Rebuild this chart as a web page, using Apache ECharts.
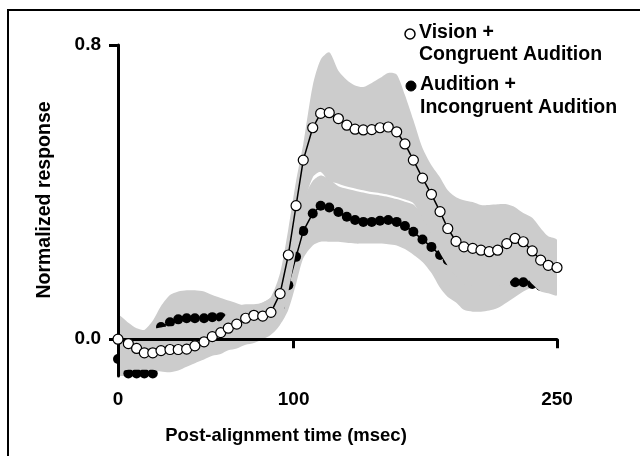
<!DOCTYPE html>
<html><head><meta charset="utf-8">
<script src="https://cdn.jsdelivr.net/npm/echarts@6/dist/echarts.min.js"></script>
<style>html,body{margin:0;padding:0;background:#fff}#c{width:640px;height:456px}</style>
</head><body><div id="c"></div>
<script>
// Post-alignment time (msec) of each sample
const times = [0, 5.9, 10.6, 15.0, 19.8, 24.5, 29.6, 34.3, 39.1, 43.8,
  49.0, 53.7, 58.5, 62.8, 67.6, 72.7, 77.4, 82.4, 87.1, 92.3,
  97.0, 101.4, 105.5, 110.9, 115.4, 120.3, 125.5, 130.3, 135.0, 139.7,
  144.5, 149.2, 153.9, 158.7, 163.4, 168.2, 173.4, 178.5, 183.4, 187.8,
  192.5, 197.0, 202.0, 206.7, 211.4, 216.2, 221.4, 226.1, 230.8, 235.9,
  240.7, 245.0, 250];
// Vision + Congruent Audition (open circles)
const visionCongruent = [0.0, -0.012, -0.025, -0.037, -0.037, -0.031, -0.028, -0.028, -0.027, -0.018,
  -0.007, 0.007, 0.018, 0.03, 0.041, 0.057, 0.065, 0.063, 0.073, 0.124,
  0.229, 0.363, 0.487, 0.575, 0.614, 0.616, 0.6, 0.582, 0.571, 0.569,
  0.57, 0.575, 0.577, 0.564, 0.531, 0.487, 0.438, 0.394, 0.347, 0.301,
  0.266, 0.251, 0.247, 0.242, 0.238, 0.242, 0.26, 0.274, 0.265, 0.24,
  0.215, 0.201, 0.195];
// Audition + Incongruent Audition (filled circles; null = not drawn in the figure)
const auditionIncongruent = [-0.054, -0.093, -0.093, -0.093, -0.093, 0.033, 0.046, 0.054, 0.057, 0.057,
  0.057, 0.06, 0.06, 0.055, 0.05, 0.045, 0.045, 0.05, 0.06, 0.09,
  0.147, 0.224, 0.294, 0.342, 0.363, 0.358, 0.346, 0.333, 0.324, 0.319,
  0.319, 0.322, 0.324, 0.319, 0.308, 0.292, 0.271, 0.251, 0.229, 0.215,
  0.2, 0.19, 0.18, 0.175, 0.17, 0.165, 0.17, 0.155, 0.155, 0.15,
  0.145, 0.14, null];
// Shaded error bands
const visionUpper = [0.065, 0.045, 0.03, 0.025, 0.028, 0.032, 0.035, 0.035, 0.036, 0.038,
  0.04, 0.045, 0.05, 0.075, 0.09, 0.095, 0.095, 0.1, 0.115, 0.18,
  0.3, 0.43, 0.53, 0.69, 0.76, 0.78, 0.73, 0.705, 0.69, 0.686,
  0.697, 0.71, 0.724, 0.72, 0.664, 0.596, 0.52, 0.473, 0.44, 0.405,
  0.386, 0.378, 0.373, 0.365, 0.365, 0.367, 0.367, 0.359, 0.343, 0.33,
  0.302, 0.28, 0.27];
const visionLower = [-0.083, -0.083, -0.083, -0.083, -0.083, -0.088, -0.09, -0.085, -0.075, -0.065,
  -0.055, -0.045, -0.04, -0.03, -0.025, -0.015, -0.01, 0.0, 0.012, 0.04,
  0.13, 0.24, 0.36, 0.44, 0.455, 0.43, 0.423, 0.415, 0.41, 0.405,
  0.4, 0.397, 0.393, 0.387, 0.38, 0.37, 0.33, 0.285, 0.235, 0.2,
  0.17, 0.15, 0.145, 0.145, 0.145, 0.145, 0.15, 0.17, 0.175, 0.15,
  0.13, 0.125, 0.12];
const auditionUpper = [0.03, 0.02, 0.02, 0.025, 0.05, 0.09, 0.12, 0.13, 0.133, 0.133,
  0.13, 0.12, 0.112, 0.105, 0.098, 0.09, 0.087, 0.1, 0.113, 0.13,
  0.2, 0.3, 0.38, 0.43, 0.445, 0.435, 0.416, 0.409, 0.404, 0.399,
  0.394, 0.391, 0.387, 0.381, 0.374, 0.366, 0.34, 0.31, 0.29, 0.27,
  0.26, 0.25, 0.245, 0.24, 0.235, 0.235, 0.235, 0.23, 0.23, 0.225,
  0.22, 0.215, 0.21];
const auditionLower = [-0.12, -0.12, -0.12, -0.12, -0.12, -0.05, -0.01, -0.005, 0.0, 0.0,
  0.0, 0.0, 0.0, 0.0, 0.005, 0.01, 0.015, 0.02, 0.025, 0.04,
  0.08, 0.15, 0.22, 0.255, 0.265, 0.265, 0.265, 0.262, 0.26, 0.26,
  0.26, 0.26, 0.258, 0.255, 0.245, 0.23, 0.21, 0.18, 0.14, 0.115,
  0.1, 0.08, 0.075, 0.075, 0.078, 0.085, 0.1, 0.115, 0.13, 0.14,
  0.135, 0.13, 0.125];
const xTicks = [0, 100, 250];
const yTicks = [0, 0.8];
const legendLines = [['Vision +', 'Congruent Audition'], ['Audition +', 'Incongruent Audition']];

const pair = (arr) => times.map((t, i) => [t, arr[i] === null ? '-' : arr[i]]);
const GRAY = '#cccccc';
const FONT = 'Liberation Sans';
const LEGEND_FONT = 'bold 19.5px "Liberation Sans"';

function bandSeries(name, lo, hi, z) {
  return {
    name: name, type: 'custom', coordinateSystem: 'cartesian2d', silent: true, z: z, clip: true,
    data: [[times[0], lo[0]]],
    renderItem: function (params, api) {
      const up = times.map((t, i) => api.coord([t, hi[i]]));
      const dn = times.map((t, i) => api.coord([t, lo[i]])).reverse();
      return {
        type: 'group',
        children: [
          { type: 'polygon', shape: { points: up.concat(dn), smooth: 0.25 },
            style: { fill: GRAY, stroke: null } }
        ]
      };
    }
  };
}

const chart = echarts.init(document.getElementById('c'), null, { renderer: 'canvas' });
chart.setOption({
  animation: false,
  backgroundColor: '#fff',
  textStyle: { fontFamily: FONT, fontWeight: 'bold', color: '#000' },
  grid: { left: 118, right: 83, top: 45, bottom: 80, containLabel: false },
  xAxis: {
    type: 'value', min: 0, max: 250, z: 4,
    axisLine: { lineStyle: { color: '#000', width: 3 } },
    axisTick: { customValues: xTicks, length: 9, lineStyle: { color: '#000', width: 3 } },
    axisLabel: { customValues: xTicks, margin: 14, fontSize: 19, fontWeight: 'bold', fontFamily: FONT, color: '#000' },
    splitLine: { show: false },
    name: 'Post-alignment time (msec)', nameLocation: 'middle', nameGap: 50,
    nameTextStyle: { fontSize: 18.5, fontWeight: 'bold', fontFamily: FONT, color: '#000', padding: [0, 103, 0, 0] }
  },
  yAxis: {
    type: 'value', min: -0.1, max: 0.8, z: 4,
    axisLine: { lineStyle: { color: '#000', width: 3 } },
    axisTick: { customValues: yTicks, length: 9, lineStyle: { color: '#000', width: 3 } },
    axisLabel: { customValues: yTicks, margin: 17, fontSize: 19, fontWeight: 'bold', fontFamily: FONT, color: '#000',
      padding: [5, 0, 0, 0], formatter: (v) => v.toFixed(1) },
    splitLine: { show: false },
    name: 'Normalized response', nameLocation: 'middle', nameGap: 63,
    nameTextStyle: { fontSize: 19.5, fontWeight: 'bold', fontFamily: FONT, color: '#000', padding: [0, 0, 0, 21] }
  },
  series: [
    bandSeries('audBand', auditionLower, auditionUpper, 1),
    { name: 'Audition + Incongruent Audition', type: 'line', data: pair(auditionIncongruent),
      symbol: 'circle', symbolSize: 10, itemStyle: { color: '#000' },
      lineStyle: { color: '#000', width: 1.5 }, z: 2 },
    bandSeries('visBand', visionLower, visionUpper, 3),
    { name: 'Vision + Congruent Audition', type: 'line', data: pair(visionCongruent),
      symbol: 'circle', symbolSize: 10, itemStyle: { color: '#fff', borderColor: '#000', borderWidth: 1.2 },
      lineStyle: { color: '#000', width: 1.5 }, z: 5 }
  ],
  graphic: [
    { type: 'polyline', shape: { points: [[8, 456], [8, 10], [640, 10]] }, style: { stroke: '#000', lineWidth: 2, fill: null }, z: 10 },
    { type: 'circle', shape: { cx: 410, cy: 34, r: 5 }, style: { fill: '#fff', stroke: '#000', lineWidth: 1.5 }, z: 10 },
    { type: 'text', x: 419, y: 33, style: { text: legendLines[0][0], font: LEGEND_FONT, fill: '#000', textVerticalAlign: 'middle' }, z: 10 },
    { type: 'text', x: 419, y: 55, style: { text: legendLines[0][1], font: LEGEND_FONT, fill: '#000', textVerticalAlign: 'middle' }, z: 10 },
    { type: 'circle', shape: { cx: 411, cy: 86, r: 5 }, style: { fill: '#000', stroke: '#000', lineWidth: 1 }, z: 10 },
    { type: 'text', x: 420, y: 85, style: { text: legendLines[1][0], font: LEGEND_FONT, fill: '#000', textVerticalAlign: 'middle' }, z: 10 },
    { type: 'text', x: 420, y: 108, style: { text: legendLines[1][1], font: LEGEND_FONT, fill: '#000', textVerticalAlign: 'middle' }, z: 10 }
  ]
});
</script>
</body></html>
